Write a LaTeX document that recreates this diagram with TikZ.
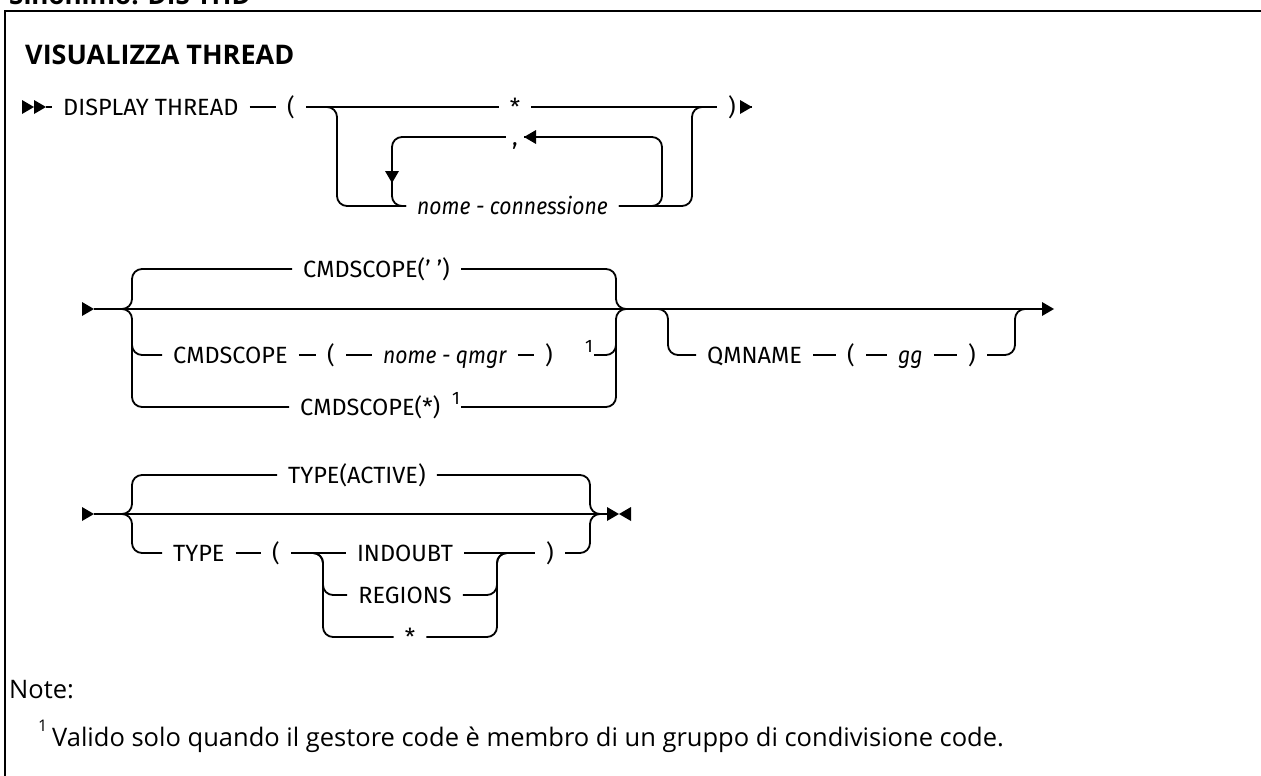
\documentclass[tikz,border=0pt]{standalone}
\usepackage{fontspec}
\setmainfont{Fira Sans}
\newfontfamily\railsans{Fira Sans}[FakeStretch=0.9]
\newfontfamily\plainsans{Open Sans}
\usetikzlibrary{arrows.meta}

\newcommand\railfont{\fontsize{23.5}{28}\selectfont}
\newcommand\notefont{\plainsans\fontsize{25.5}{30}\selectfont}

% filled heads, tip at the given point
\newcommand\headR[1]{\fill (#1) -- ++(-12,-7) -- ++(0,14) -- cycle;}
\newcommand\headL[1]{\fill (#1) -- ++(12,-7) -- ++(0,14) -- cycle;}
\newcommand\headD[1]{\fill (#1) -- ++(-7,-12) -- ++(14,0) -- cycle;}

\tikzset{
  rail/.style={line width=1.8pt, rounded corners=10pt},
  kw/.style={font=\railfont, anchor=west, inner xsep=11pt, inner ysep=0pt,
             text height=16pt, text depth=0pt},
  var/.style={kw, font=\railsans\railfont\itshape},
  fn/.style={font=\fontsize{18}{22}\selectfont, anchor=west, inner xsep=1pt,
             inner ysep=0pt, text height=16pt, text depth=0pt},
}

\begin{document}
\begin{tikzpicture}[x=1pt, y=-1pt]
    \useasboundingbox (0,0) rectangle (1261,776);
    \clip (0,0) rectangle (1261,776);

    % frame and headings
    \draw[line width=2.4pt] (1275,11) -- (5,11) -- (5,790);
    \node[font=\plainsans\bfseries\fontsize{26}{30}\selectfont, anchor=base west, inner sep=0pt] (syn) at (9,5) {Sinonimo: DIS THD};
    \node[font=\plainsans\bfseries\fontsize{27}{30}\selectfont, anchor=base west, inner sep=0pt] (title) at (25,65) {VISUALIZZA THREAD};

    % ---- DISPLAY THREAD ( ... )
    \def\ya{107}
    \def\yb{137}
    \def\yc{206}
    \headR{34,\ya}
    \headR{46,\ya}
    \coordinate (startA) at (46,\ya);
    \node[kw] (disp) at (52,\ya) {DISPLAY THREAD};
    \node[kw] (lparA) at (276,\ya) {(};
    \node[kw, anchor=center] (starA) at (515,\ya) {*};
    \node[kw] (rparA) at (717,\ya) {)};
    \coordinate (endA) at (752,\ya);
    \draw[rail] (startA) -- (disp.west);
    \draw[rail] (disp.east) -- (lparA.west);
    \draw[rail] (lparA.east) -- (starA.west);
    \draw[rail] (starA.east) -- (rparA.west);
    \draw[rail] (rparA.east) -- (endA);
    \headR{endA}

    \node[var] (nomeA) at (406,\yc) {nome - connessione};
    \node[kw, anchor=center, inner xsep=6pt] (commaA) at (515,\yb) {,};
    \coordinate (jA) at (325,\ya);
    \coordinate (cA) at (337,\yc);
    \coordinate (kA) at (692,\ya);
    \coordinate (jA2) at (704,\ya);
    \draw[rail] (jA) -| (cA) -- (nomeA.west);
    \draw[rail] (nomeA.east) -| (kA) -- (jA2);
    % repeat loop
    \coordinate (lqA) at (662,\yb);
    \coordinate (arrA) at (392,183);
    \draw[rail] (nomeA.east) -| (lqA) -- (commaA.east);
    \headL{commaA.east}
    \draw[rail] (commaA.west) -| (arrA);
    \draw[rail] (arrA) |- (nomeA.west);
    \headD{arrA}

    % ---- CMDSCOPE / QMNAME
    \def\yd{269}
    \def\ye{309}
    \def\yf{355}
    \def\yg{407}
    \headR{94,\ye}
    \coordinate (startB) at (94,\ye);
    \coordinate (endB) at (1042,\ye);
    \draw[rail] (startB) -- (endB);
    \headR{1054,\ye}

    \node[kw] (cmdBlank) at (292,\yd) {CMDSCOPE(' ')};
    \node[kw] (cmdB) at (162,\yf) {CMDSCOPE};
    \node[kw] (lparB) at (316,\yf) {(};
    \node[var] (qmgr) at (372,\yf) {nome - qmgr};
    \node[kw] (rparB) at (534,\yf) {)};
    \node[fn] (supB) at (584,\yf) {\raisebox{11pt}{1}};
    \node[kw] (cmdStar) at (289,\yg) {CMDSCOPE(*)};
    \node[fn] (supStar) at (451,\yg) {\raisebox{11pt}{1}};
    \draw[rail] (cmdB.east) -- (lparB.west);
    \draw[rail] (lparB.east) -- (qmgr.west);
    \draw[rail] (qmgr.east) -- (rparB.west);

    \coordinate (jB) at (122,\ye);
    \coordinate (cpB1) at (132,\yd);
    \coordinate (cpB2) at (132,340);
    \coordinate (cpB3) at (132,\yg);
    \coordinate (kB) at (616,\ye);
    \coordinate (kB2) at (616,340);
    \coordinate (jB2) at (628,\ye);
    \draw[rail] (jB) -| (cpB1) -- (cmdBlank.west);
    \draw[rail] (jB) -| (cpB3) -- (cmdStar.west);
    \draw[rail] (cpB2) |- (cmdB.west);
    \draw[rail] (cmdBlank.east) -| (kB) -- (jB2);
    \draw[rail] (supStar.east) -| (kB) -- (jB2);
    \draw[rail] (supB.east) -| (kB2);

    \node[kw] (qmn) at (696,\yf) {QMNAME};
    \node[kw] (lparQ) at (836,\yf) {(};
    \node[var] (gg) at (887,\yf) {gg};
    \node[kw] (rparQ) at (957,\yf) {)};
    \coordinate (jQ) at (656,\ye);
    \coordinate (cQ) at (668,\yf);
    \coordinate (kQ) at (1015,\ye);
    \coordinate (jQ2) at (1027,\ye);
    \draw[rail] (jQ) -| (cQ) -- (qmn.west);
    \draw[rail] (qmn.east) -- (lparQ.west);
    \draw[rail] (lparQ.east) -- (gg.west);
    \draw[rail] (gg.east) -- (rparQ.west);
    \draw[rail] (rparQ.east) -| (kQ) -- (jQ2);

    % ---- TYPE
    \def\yh{475}
    \def\yi{514}
    \def\yj{553}
    \def\yk{595}
    \def\yl{637}
    \headR{94,\yi}
    \coordinate (startC) at (94,\yi);
    \coordinate (endC) at (607,\yi);
    \draw[rail] (startC) -- (endC);
    \headR{619,\yi}
    \headL{619,\yi}

    \node[kw] (act) at (277,\yh) {TYPE(ACTIVE)};
    \node[kw] (typ) at (162,\yj) {TYPE};
    \node[kw] (lparC) at (261,\yj) {(};
    \node[kw, anchor=center] (indoubt) at (405,\yj) {INDOUBT};
    \node[kw, anchor=center] (regions) at (405,\yk) {REGIONS};
    \node[kw, anchor=center] (starC) at (410,\yl) {*};
    \node[kw] (rparC) at (535,\yj) {)};
    \draw[rail] (typ.east) -- (lparC.west);
    \draw[rail] (lparC.east) -- (indoubt.west);
    \draw[rail] (indoubt.east) -- (rparC.west);

    \coordinate (jC) at (122,\yi);
    \coordinate (cpC1) at (132,\yh);
    \coordinate (cpC2) at (132,\yj);
    \coordinate (kC) at (590,\yi);
    \coordinate (jC2) at (602,\yi);
    \draw[rail] (jC) -| (cpC1) -- (act.west);
    \draw[rail] (jC) -| (cpC2) -- (typ.west);
    \draw[rail] (act.east) -| (kC) -- (jC2);
    \draw[rail] (rparC.east) -| (kC) -- (jC2);

    \coordinate (jD) at (311,\yj);
    \coordinate (cD2) at (323,\yk);
    \coordinate (cD3) at (323,\yl);
    \coordinate (kD) at (497,\yj);
    \coordinate (jD2) at (509,\yj);
    \draw[rail] (jD) -| (cD2) -- (regions.west);
    \draw[rail] (jD) -| (cD3) -- (starC.west);
    \draw[rail] (regions.east) -| (kD) -- (jD2);
    \draw[rail] (starC.east) -| (kD) -- (jD2);

    % notes
    \node[font=\notefont, anchor=base west, inner sep=0pt] (note) at (9,698) {Note:};
    \node[font=\plainsans\fontsize{16}{19}\selectfont, anchor=base west, inner sep=0pt] (fnmark) at (38,731) {1};
    \node[font=\notefont, anchor=base west, inner sep=0pt] (fntext) at (52,746)
        {Valido solo quando il gestore code è membro di un gruppo di condivisione code.};
\end{tikzpicture}
\end{document}
